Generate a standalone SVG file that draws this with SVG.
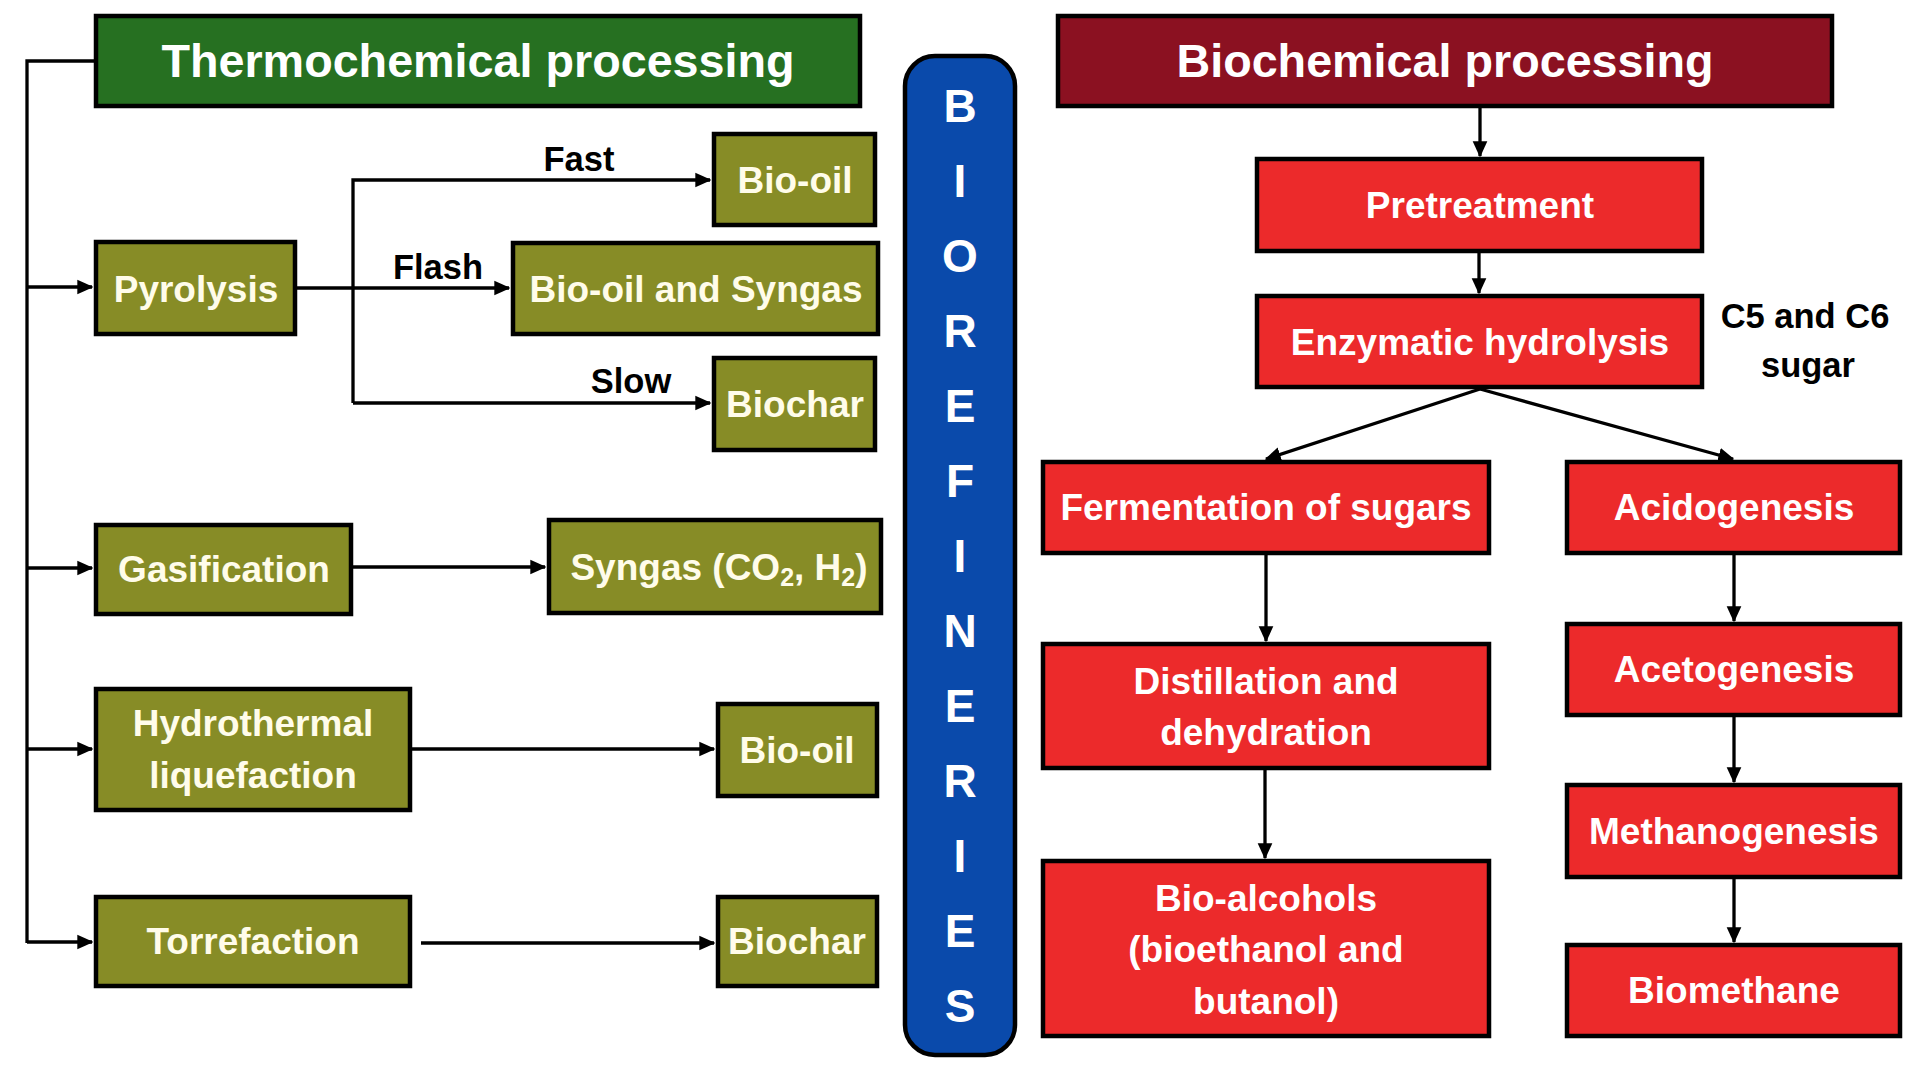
<svg xmlns="http://www.w3.org/2000/svg" width="1920" height="1080" viewBox="0 0 1920 1080">
<style>
text{font-family:"Liberation Sans",Arial,sans-serif;font-weight:bold;text-anchor:middle}
.box{stroke:#000;stroke-width:4.5}
.olive{fill:#878C26}
.red{fill:#EC2A2B}
.t{fill:#FFFCEA;font-size:37px}
.tw{fill:#FFFFFF;font-size:37px}
.hdr{fill:#FFFFFF;font-size:46.7px}
.lbl{fill:#000;font-size:34.5px}
.conn path{fill:none;stroke:#000;stroke-width:3.3}
.vert{fill:#FFFFFF;font-size:46px}
</style>
<defs>
<marker id="ah" markerUnits="userSpaceOnUse" markerWidth="16" markerHeight="16" viewBox="0 0 12 12" refX="11" refY="6" orient="auto">
<path d="M0,0.5 L12,6 L0,11.5 z" fill="#000"/>
</marker>
</defs>
<rect width="1920" height="1080" fill="#FFFFFF"/>

<g class="conn" id="connectors">
<path d="M94,61 H27 V943"/>
<path d="M27,287 H92" marker-end="url(#ah)"/>
<path d="M27,568 H92" marker-end="url(#ah)"/>
<path d="M27,749 H92" marker-end="url(#ah)"/>
<path d="M27,942 H92" marker-end="url(#ah)"/>
<path d="M297,288 H509" marker-end="url(#ah)"/>
<path d="M353,403 V180 H710" marker-end="url(#ah)"/>
<path d="M353,403 H710" marker-end="url(#ah)"/>
<path d="M353,567 H545" marker-end="url(#ah)"/>
<path d="M412,749 H714" marker-end="url(#ah)"/>
<path d="M421,943 H714" marker-end="url(#ah)"/>
<path d="M1480,108 V156" marker-end="url(#ah)"/>
<path d="M1479,253 V293" marker-end="url(#ah)"/>
<path d="M1480,389 L1266,459" marker-end="url(#ah)"/>
<path d="M1480,389 L1733,459" marker-end="url(#ah)"/>
<path d="M1266,555 V641" marker-end="url(#ah)"/>
<path d="M1265,770 V858" marker-end="url(#ah)"/>
<path d="M1734,555 V621" marker-end="url(#ah)"/>
<path d="M1734,717 V782" marker-end="url(#ah)"/>
<path d="M1734,879 V942" marker-end="url(#ah)"/>
</g>

<g id="thermochemical-processing">
<rect class="box" x="96" y="16" width="764" height="90" fill="#267021"/>
<text class="hdr" x="478" y="77">Thermochemical processing</text>
</g>
<g id="pyrolysis">
<rect class="box olive" x="96" y="242" width="199" height="92"/>
<text class="t" x="196" y="302">Pyrolysis</text>
</g>
<g id="bio-oil-fast">
<rect class="box olive" x="714" y="134" width="161" height="91"/>
<text class="t" x="795" y="193">Bio-oil</text>
</g>
<g id="bio-oil-syngas">
<rect class="box olive" x="513" y="243" width="365" height="91"/>
<text class="t" x="696" y="302">Bio-oil and Syngas</text>
</g>
<g id="biochar-slow">
<rect class="box olive" x="714" y="358" width="161" height="92"/>
<text class="t" x="795" y="417">Biochar</text>
</g>
<g id="labels">
<text class="lbl" x="579" y="171">Fast</text>
<text class="lbl" x="438" y="279">Flash</text>
<text class="lbl" x="631" y="393">Slow</text>
<text class="lbl" x="1805" y="328">C5 and C6</text>
<text class="lbl" x="1808" y="377">sugar</text>
</g>
<g id="gasification">
<rect class="box olive" x="96" y="525" width="255" height="89"/>
<text class="t" x="224" y="582">Gasification</text>
</g>
<g id="syngas">
<rect class="box olive" x="549" y="520" width="332" height="93"/>
<text class="t" x="719" y="580">Syngas (CO<tspan font-size="25" dy="6">2</tspan><tspan dy="-6">, H</tspan><tspan font-size="25" dy="6">2</tspan><tspan dy="-6">)</tspan></text>
</g>
<g id="hydrothermal-liquefaction">
<rect class="box olive" x="96" y="689" width="314" height="121"/>
<text class="t" x="253" y="736">Hydrothermal</text>
<text class="t" x="253" y="788">liquefaction</text>
</g>
<g id="bio-oil-htl">
<rect class="box olive" x="718" y="704" width="159" height="92"/>
<text class="t" x="797" y="763">Bio-oil</text>
</g>
<g id="torrefaction">
<rect class="box olive" x="96" y="897" width="314" height="89"/>
<text class="t" x="253" y="954">Torrefaction</text>
</g>
<g id="biochar-torrefaction">
<rect class="box olive" x="718" y="897" width="159" height="89"/>
<text class="t" x="797" y="954">Biochar</text>
</g>

<g id="biorefineries">
<rect x="905" y="56" width="110" height="999" rx="30" ry="30" fill="#0A4AAB" stroke="#000" stroke-width="4.5"/>
<text class="vert" x="960" y="122">B</text>
<text class="vert" x="960" y="197">I</text>
<text class="vert" x="960" y="272">O</text>
<text class="vert" x="960" y="347">R</text>
<text class="vert" x="960" y="422">E</text>
<text class="vert" x="960" y="497">F</text>
<text class="vert" x="960" y="572">I</text>
<text class="vert" x="960" y="647">N</text>
<text class="vert" x="960" y="722">E</text>
<text class="vert" x="960" y="797">R</text>
<text class="vert" x="960" y="872">I</text>
<text class="vert" x="960" y="947">E</text>
<text class="vert" x="960" y="1022">S</text>
</g>

<g id="biochemical-processing">
<rect class="box" x="1058" y="16" width="774" height="90" fill="#8B1121"/>
<text class="hdr" x="1445" y="77">Biochemical processing</text>
</g>
<g id="pretreatment">
<rect class="box red" x="1257" y="159" width="445" height="92"/>
<text class="tw" x="1480" y="218">Pretreatment</text>
</g>
<g id="enzymatic-hydrolysis">
<rect class="box red" x="1257" y="296" width="445" height="91"/>
<text class="tw" x="1480" y="355">Enzymatic hydrolysis</text>
</g>
<g id="fermentation">
<rect class="box red" x="1043" y="462" width="446" height="91"/>
<text class="tw" x="1266" y="520">Fermentation of sugars</text>
</g>
<g id="acidogenesis">
<rect class="box red" x="1567" y="462" width="333" height="91"/>
<text class="tw" x="1734" y="520">Acidogenesis</text>
</g>
<g id="distillation">
<rect class="box red" x="1043" y="644" width="446" height="124"/>
<text class="tw" x="1266" y="694">Distillation and</text>
<text class="tw" x="1266" y="745">dehydration</text>
</g>
<g id="bio-alcohols">
<rect class="box red" x="1043" y="861" width="446" height="175"/>
<text class="tw" x="1266" y="911">Bio-alcohols</text>
<text class="tw" x="1266" y="962">(bioethanol and</text>
<text class="tw" x="1266" y="1014">butanol)</text>
</g>
<g id="acetogenesis">
<rect class="box red" x="1567" y="624" width="333" height="91"/>
<text class="tw" x="1734" y="682">Acetogenesis</text>
</g>
<g id="methanogenesis">
<rect class="box red" x="1567" y="785" width="333" height="92"/>
<text class="tw" x="1734" y="844">Methanogenesis</text>
</g>
<g id="biomethane">
<rect class="box red" x="1567" y="945" width="333" height="91"/>
<text class="tw" x="1734" y="1003">Biomethane</text>
</g>
</svg>
